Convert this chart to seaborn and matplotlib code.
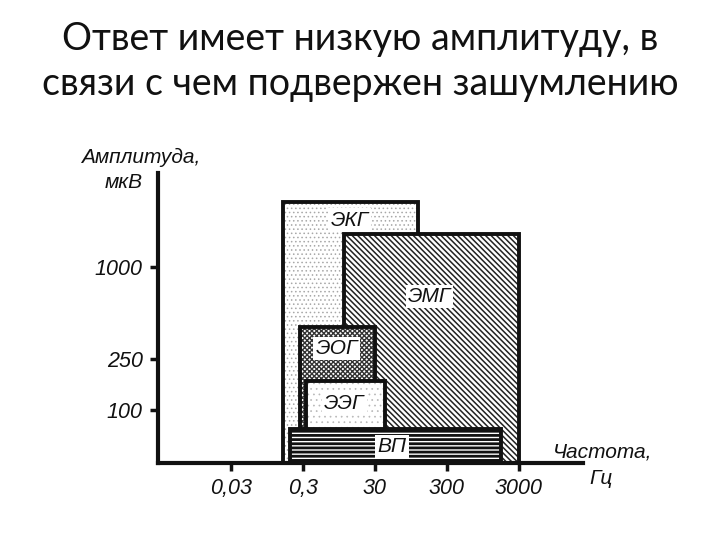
import matplotlib
matplotlib.use("Agg")
import matplotlib.pyplot as plt
import seaborn as sns

# schematic chart: positions are in "tick slots", not real log units
title = "Ответ имеет низкую амплитуду, в\nсвязи с чем подвержен зашумлению"
freq_ticks = [0, 1, 2, 3, 4]
freq_labels = ["0,03", "0,3", "30", "300", "3000"]
amp_ticks = [3.92, 2.07, 1.05]
amp_labels = ["1000", "250", "100"]

signals = ["ЭКГ", "ЭМГ", "ЭОГ", "ЭЭГ", "ВП"]
freq_lo = [0.72, 1.57, 0.96, 1.04, 0.82]
freq_hi = [2.60, 4.00, 2.01, 2.15, 3.75]
amp_top = [5.22, 4.57, 2.72, 1.63, 0.67]

# drawing styles per signal
hatches = ["....", "\\\\\\\\\\\\", "xxxxxxx", "...", "----"]
hatch_colors = ["#a8a8a8", "#222222", "#333333", "#b8b8b8", "#111111"]
hatch_lw = [0.6, 1.1, 1.0, 0.5, 2.0]
label_xy = [(1.65, 4.85), (2.76, 3.33), (1.47, 2.29), (1.58, 1.19), (2.24, 0.33)]

sns.set_theme(style="white")
plt.rcParams["font.family"] = ["Liberation Sans", "DejaVu Sans"]

fig = plt.figure(figsize=(7.2, 5.4), dpi=100)
fig.text(0.5, 0.962, title, ha="center", va="top", fontsize=27,
         family=["Lato", "DejaVu Sans"], linespacing=1.32, color="#111111")

ax = fig.add_axes([0.2194, 0.1431, 0.590, 0.5365])
ax.set_xlim(-1.01, 4.89)
ax.set_ylim(0, 5.79)

for i, name in enumerate(signals):
    w = freq_hi[i] - freq_lo[i]
    # hatched fill
    fill = ax.bar(freq_lo[i], amp_top[i], width=w, align="edge", bottom=0,
                  color="white", edgecolor=hatch_colors[i], linewidth=0,
                  hatch=hatches[i], zorder=2 + i)
    for p in fill.patches:
        if hasattr(p, "set_hatch_linewidth"):
            p.set_hatch_linewidth(hatch_lw[i])
    # thick outline
    ax.bar(freq_lo[i], amp_top[i], width=w, align="edge", bottom=0,
           fill=False, edgecolor="#111111", linewidth=2.8, zorder=2 + i)
    ax.text(label_xy[i][0], label_xy[i][1], name, ha="center", va="center",
            fontsize=15, style="italic", color="#111111", zorder=10 + i,
            bbox=dict(facecolor="white", edgecolor="none", pad=1.5))

ax.set_xticks(freq_ticks)
ax.set_xticklabels(freq_labels, fontsize=15.5, style="italic")
ax.set_yticks(amp_ticks)
ax.set_yticklabels(amp_labels, fontsize=15.5, style="italic")
ax.tick_params(axis="both", direction="out", length=6, width=2.5,
               color="#111111", labelcolor="#111111", pad=5,
               bottom=True, left=True)

for side in ["top", "right"]:
    ax.spines[side].set_visible(False)
for side in ["left", "bottom"]:
    ax.spines[side].set_linewidth(3)
    ax.spines[side].set_color("#111111")
    ax.spines[side].set_zorder(20)

fig.text(200 / 720, 1 - 157 / 540, "Амплитуда,", ha="right", va="center",
         fontsize=15, style="italic", color="#111111")
fig.text(143 / 720, 1 - 182 / 540, "мкВ", ha="right", va="center",
         fontsize=15, style="italic", color="#111111")
fig.text(603 / 720, 1 - 452 / 540, "Частота,", ha="center", va="center",
         fontsize=15, style="italic", color="#111111")
fig.text(601 / 720, 1 - 478 / 540, "Гц", ha="center", va="center",
         fontsize=15, style="italic", color="#111111")

fig.savefig("out.png", dpi=100, facecolor="white")
